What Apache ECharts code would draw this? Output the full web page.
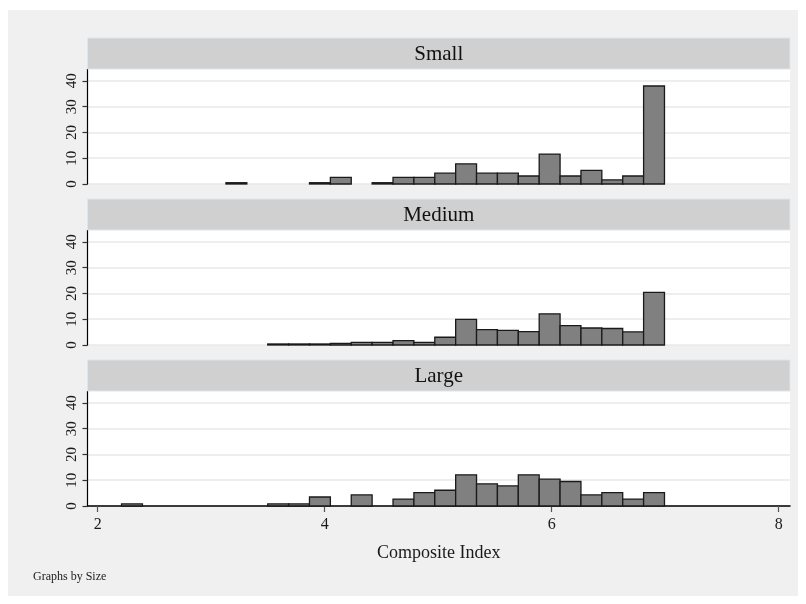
<!DOCTYPE html>
<html>
<head>
<meta charset="utf-8">
<script src="https://cdn.jsdelivr.net/npm/echarts@6/dist/echarts.min.js"></script>
<style>
html,body{margin:0;padding:0;background:#ffffff;}
#chart{width:806px;height:604px;}
</style>
</head>
<body>
<div id="chart"></div>
<script>
// ---- data ----
const panelNames = ['Small', 'Medium', 'Large'];
const binStart = 2.21;     // left edge of first bin (Composite Index)
const binWidth = 0.184;    // width of each bin
// heights (percent) of 26 bins
const smallValues  = [0, 0, 0, 0, 0, 0.5, 0, 0, 0, 0.5, 2.6, 0, 0.5, 2.6, 2.6, 4.2, 7.8, 4.2, 4.2, 3.1, 11.6, 3.1, 5.3, 1.6, 3.1, 38.0];
const mediumValues = [0, 0, 0, 0, 0, 0, 0, 0.4, 0.4, 0.4, 0.65, 1.0, 1.0, 1.7, 1.0, 3.0, 9.9, 6.0, 5.7, 5.2, 12.1, 7.5, 6.6, 6.4, 5.1, 20.4];
const largeValues  = [0.8, 0, 0, 0, 0, 0, 0, 0.8, 0.8, 3.5, 0, 4.3, 0, 2.7, 5.2, 6.1, 12.1, 8.6, 7.8, 12.1, 10.4, 9.5, 4.3, 5.2, 2.7, 5.2];
const xTicks = [2, 4, 6, 8];
const yTicks = [0, 10, 20, 30, 40];
const xTitle = 'Composite Index';
const note = 'Graphs by Size';

const allValues = [smallValues, mediumValues, largeValues];

// ---- layout ----
const SERIF = '"Liberation Serif", "DejaVu Serif", serif';
const headerTops = [38, 199, 360];
const headerH = 31;
const plotH = 115;
const plotLeft = 87.5;
const plotRight = 790;

const chart = echarts.init(document.getElementById('chart'), null, {renderer: 'canvas'});

const grids = [], xAxes = [], yAxes = [], series = [], graphics = [];

graphics.push({type: 'rect', shape: {x: 8, y: 10, width: 790, height: 586}, style: {fill: '#f0f0f0'}, z: -10});

allValues.forEach((vals, i) => {
  const top = headerTops[i] + headerH;
  const isLast = i === allValues.length - 1;
  grids.push({left: plotLeft, top: top, width: plotRight - plotLeft, height: plotH,
    show: true, backgroundColor: '#ffffff', borderWidth: 0});
  xAxes.push({
    type: 'value', gridIndex: i, min: 1.91, max: 8.1,
    axisLine: {show: isLast, onZero: false, lineStyle: {color: '#000000', width: 1.5}},
    axisTick: {show: isLast, length: 6, customValues: xTicks, lineStyle: {color: '#555555', width: 1.2}},
    axisLabel: {show: isLast, customValues: xTicks, color: '#1a1a1a', fontFamily: SERIF, fontSize: 16, margin: 11},
    splitLine: {show: false},
    name: isLast ? xTitle : '', nameLocation: 'middle', nameGap: 38,
    nameTextStyle: {color: '#1a1a1a', fontFamily: SERIF, fontSize: 18}
  });
  yAxes.push({
    type: 'value', gridIndex: i, min: 0, max: 44.6, interval: 10,
    axisLine: {show: true, lineStyle: {color: '#000000', width: 1.2}},
    axisTick: {show: true, length: 5, customValues: yTicks, lineStyle: {color: '#333333', width: 1.2}},
    axisLabel: {rotate: 90, customValues: yTicks, color: '#1a1a1a', fontFamily: SERIF, fontSize: 15, margin: 8},
    splitLine: {show: true, lineStyle: {color: '#e8e8e8', width: 1.5}}
  });
  const data = vals.map((v, k) => [binStart + k * binWidth, binStart + (k + 1) * binWidth, v]).filter(d => d[2] > 0);
  series.push({
    type: 'custom', xAxisIndex: i, yAxisIndex: i, data: data,
    renderItem: function (params, api) {
      const p0 = api.coord([api.value(0), 0]);
      const p1 = api.coord([api.value(1), api.value(2)]);
      return {
        type: 'rect',
        shape: {x: p0[0], y: p1[1], width: p1[0] - p0[0], height: p0[1] - p1[1]},
        style: {fill: '#808080', stroke: '#1a1a1a', lineWidth: 1.3}
      };
    },
    z: 5
  });
  graphics.push({type: 'rect', shape: {x: plotLeft, y: headerTops[i], width: plotRight - plotLeft, height: headerH},
    style: {fill: '#d0d0d0', stroke: '#dce6ee', lineWidth: 1}, z: 1});
  graphics.push({type: 'text', x: (plotLeft + plotRight) / 2, y: headerTops[i] + headerH / 2 + 1,
    style: {text: panelNames[i], fill: '#111111', font: '21px ' + SERIF, align: 'center', verticalAlign: 'middle'}, z: 2});
});

graphics.push({type: 'text', x: 33, y: 577,
  style: {text: note, fill: '#1a1a1a', font: '12px ' + SERIF, align: 'left', verticalAlign: 'middle'}, z: 2});

chart.setOption({
  backgroundColor: '#ffffff',
  animation: false,
  grid: grids,
  xAxis: xAxes,
  yAxis: yAxes,
  series: series,
  graphic: graphics
});
</script>
</body>
</html>
